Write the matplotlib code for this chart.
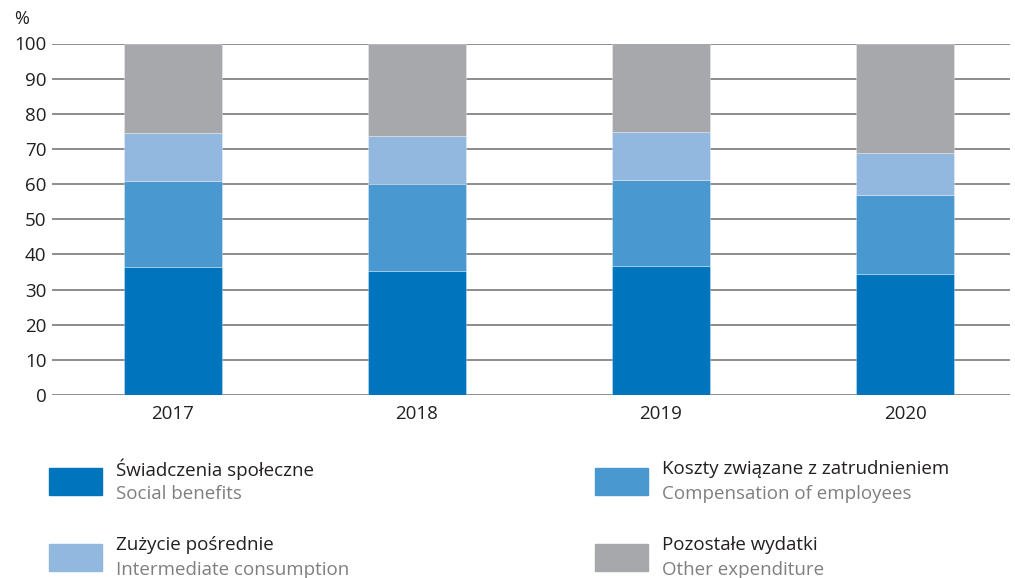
import matplotlib
matplotlib.use('Agg')
import matplotlib.pyplot as plt
import numpy as np
from matplotlib.patches import Rectangle

years = ['2017', '2018', '2019', '2020']
social = [36.4, 35.4, 36.6, 34.4]
compensation = [24.6, 24.6, 24.7, 22.4]
intermediate = [13.4, 13.7, 13.5, 12.1]
other = [25.6, 26.3, 25.2, 31.1]

labels_pl = ['Świadczenia społeczne', 'Koszty związane z zatrudnieniem',
             'Zużycie pośrednie', 'Pozostałe wydatki']
labels_en = ['Social benefits', 'Compensation of employees',
             'Intermediate consumption', 'Other expenditure']
colors = ['#0075be', '#4a98d0', '#93b8e0', '#a7a8ab']

matplotlib.rcParams['font.family'] = ['Open Sans', 'DejaVu Sans']

W, H = 1015, 578
fig = plt.figure(figsize=(W / 100, H / 100), dpi=100)
ax = fig.add_axes([52 / W, 1 - 395 / H, (1010 - 52) / W, (395 - 43.5) / H])

x = np.arange(len(years))
width = 0.4
series = [social, compensation, intermediate, other]
bottom = np.zeros(len(years))
for vals, c in zip(series, colors):
    ax.bar(x, vals, width, bottom=bottom, color=c, edgecolor=(1, 1, 1, 0.35),
           linewidth=0.6, zorder=3)
    bottom += np.array(vals)

ax.set_ylim(0, 100)
ax.set_xlim(-0.496, 3.43)
ax.set_yticks(range(0, 101, 10))
ax.set_xticks(x, years)
ax.yaxis.grid(True, color='#8c8c8c', linewidth=1.4, zorder=0)
ax.set_axisbelow(True)
for s in ax.spines.values():
    s.set_visible(False)
ax.tick_params(length=0, labelsize=13.5, colors='#231f20', pad=4)
ax.tick_params(axis='x', pad=7)
fig.text(22 / W, 1 - 19 / H, '%', fontsize=13, color='#231f20',
         ha='center', va='center')

# legend drawn manually: two columns, Polish name above English name
pos = [(49, 468), (595, 468), (49, 544), (595, 544)]
for (px, py), c, pl, en in zip(pos, colors, labels_pl, labels_en):
    fig.patches.append(Rectangle((px / W, 1 - (py + 27) / H), 53 / W, 27 / H,
                                 transform=fig.transFigure, color=c))
    fig.text((px + 67) / W, 1 - (py + 1) / H, pl, fontsize=13.5,
             color='#231f20', va='center')
    fig.text((px + 67) / W, 1 - (py + 26) / H, en, fontsize=13.5,
             color='#7f7f7f', va='center')

fig.savefig('out.png', dpi=100)
